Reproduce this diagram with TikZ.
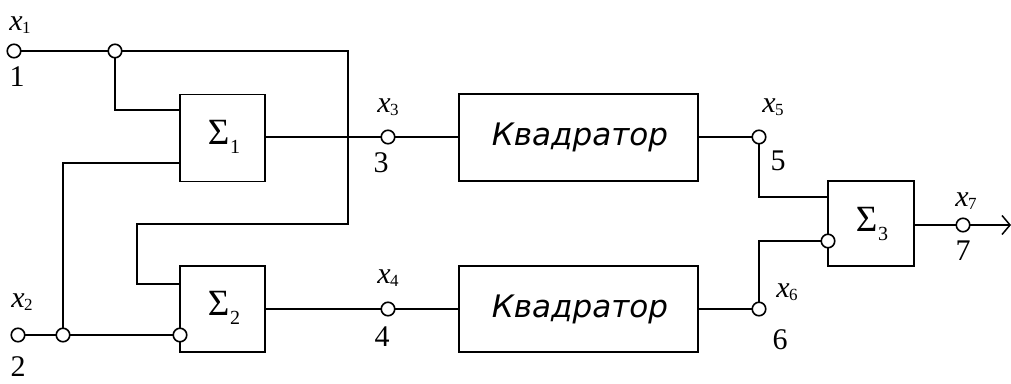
\documentclass[tikz,border=0pt]{standalone}
\usepackage{fontspec}
\setmainfont{Liberation Serif}
\newfontfamily\serf{Liberation Serif}
\newfontfamily\quadfont{DejaVu Sans}
\usetikzlibrary{arrows.meta}
\newcommand{\xv}[1]{\textit{x}\kern-0.5pt\raisebox{-3pt}{\fontsize{17}{17}\selectfont #1}}
\newcommand{\sg}[1]{Σ\kern0.5pt\raisebox{-9pt}{\fontsize{20}{20}\selectfont #1}}
\begin{document}
\begin{tikzpicture}[x=1pt,y=-1pt,line width=1.7pt,
  term/.style={circle,draw,fill=white,inner sep=0pt,minimum size=13.5pt,line width=1.6pt},
  blk/.style={draw,rectangle,inner sep=0pt,line width=1.7pt},
  lbl/.style={inner sep=0pt,font=\serf\fontsize{30}{30}\selectfont},
  sig/.style={inner sep=0pt,font=\serf\fontsize{37}{37}\selectfont},
  quad/.style={inner sep=0pt,font=\quadfont\itshape\fontsize{31}{32}\selectfont}]
\useasboundingbox (0,0) rectangle (1011,383);
% blocks
\node[blk,minimum width=85pt,minimum height=87pt] (s1) at (222.5,138) {};
\node[sig] (s1t) at (224,137) {\sg{1}};
\node[blk,minimum width=85pt,minimum height=86pt] (s2) at (222.5,309) {};
\node[sig] (s2t) at (224,308) {\sg{2}};
\node[blk,minimum width=239pt,minimum height=87pt] (q1) at (578.5,137.5) {};
\node[quad] (q1t) at (580,137) {Квадратор};
\node[blk,minimum width=239pt,minimum height=86pt] (q2) at (578.5,309) {};
\node[quad] (q2t) at (580,309) {Квадратор};
\node[blk,minimum width=86pt,minimum height=85pt] (s3) at (871,223.5) {};
\node[sig] (s3t) at (872,224) {\sg{3}};
% coordinates
\coordinate (c1a) at (348,51);
\coordinate (c1b) at (348,224);
\coordinate (c1c) at (137,224);
\coordinate (c1d) at (137,284);
\coordinate (s2in1) at (180,284);
\coordinate (j1d) at (115,110);
\coordinate (s1in1) at (180,110);
\coordinate (s1in2) at (180,163);
\coordinate (j2u) at (63,163);
\coordinate (s1out) at (265,137);
\coordinate (s2out) at (265,309);
\coordinate (k5a) at (759,197);
\coordinate (s3in1) at (828,197);
\coordinate (k6a) at (759,241);
\coordinate (endp) at (1011,225);
% terminals (positions)
\coordinate (t1) at (14,51);
\coordinate (j1) at (115,51);
\coordinate (t2) at (18,335);
\coordinate (j2) at (63,335);
\coordinate (inv2) at (180,335);
\coordinate (t3) at (388,137);
\coordinate (t4) at (388,309);
\coordinate (t5) at (759,137);
\coordinate (t6) at (759,309);
\coordinate (inv3) at (828,241);
\coordinate (t7) at (963,225);
% wires
\draw (s1out) -- (t3) -- (q1.west |- t3);
\draw (s2out) -- (t4) -- (q2.west |- t4);
\draw (t1) -- (c1a) -- (c1b) -- (c1c) -- (c1d) -- (s2in1);
\draw (j1) -- (j1d) -- (s1in1);
\draw (s1in2) -- (j2u) -- (j2);
\draw (t2) -- (inv2);
\draw (q1.east |- t5) -- (t5) -- (k5a) -- (s3in1);
\draw (q2.east |- t6) -- (t6) -- (k6a) -- (inv3);
\draw (s3.east |- t7) -- (t7);
\draw[-{Straight Barb[length=8pt,width=19pt,line width=1.5pt]}] (t7) -- (endp);
% terminal circles
\foreach \n in {t1,j1,t2,j2,inv2,t3,t4,t5,t6,inv3,t7}
  \node[term] at (\n) {};
% labels
\node[lbl] (l1) at (20,25) {\xv{1}};
\node[lbl] (n1) at (17,77) {1};
\node[lbl] (l2) at (22,302) {\xv{2}};
\node[lbl] (n2) at (18,367) {2};
\node[lbl] (l3) at (388,107) {\xv{3}};
\node[lbl] (n3) at (381,163) {3};
\node[lbl] (l4) at (388,278) {\xv{4}};
\node[lbl] (n4) at (382,337) {4};
\node[lbl] (l5) at (773,107) {\xv{5}};
\node[lbl] (n5) at (778,161) {5};
\node[lbl] (l6) at (787,292) {\xv{6}};
\node[lbl] (n6) at (780,340) {6};
\node[lbl] (l7) at (966,201) {\xv{7}};
\node[lbl] (n7) at (963,251) {7};
\end{tikzpicture}
\end{document}
